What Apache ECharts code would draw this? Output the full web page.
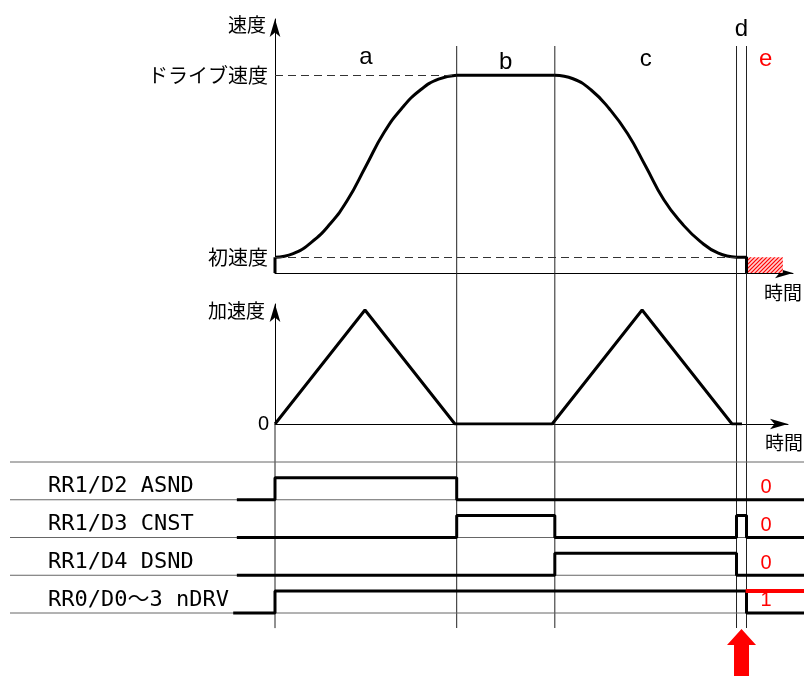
<!DOCTYPE html>
<html>
<head>
<meta charset="utf-8">
<script src="https://cdn.jsdelivr.net/npm/echarts@6/dist/echarts.min.js"></script>
<style>
  html, body { margin: 0; padding: 0; background: #fff; }
  #chart { width: 804px; height: 676px; }
</style>
</head>
<body>
<div id="chart"></div>
<script>
// phase boundaries on the time axis (a | b | c | d | e)
const phaseBounds = [0, 20, 30.8, 50.8, 51.9]
const phaseNames = ['a', 'b', 'c', 'd', 'e']

// speed profile
const initialSpeed = 8
const driveSpeed = 100
const speedUp = [[0, 8], [2, 9.8], [4, 15.5], [6, 24.5], [8, 37], [10, 54], [12, 71],
  [14, 83.5], [16, 92.5], [18, 98], [20, 100]]
const speedDown = [[30.8, 100], [32.8, 98.2], [34.8, 92.5], [36.8, 83], [38.8, 70.5], [40.8, 54],
  [42.8, 37], [44.8, 25], [46.8, 16], [48.8, 10], [50.8, 8]]
const hatchEnd = 55.9

// acceleration profile
const accelT = [0, 10, 20, 30.8, 40.8, 50.8, 51.9]
const accelV = [0, 100, 0, 0, 100, 0, 0]

// status signals: [time, level]
const signalNames = ['RR1/D2 ASND', 'RR1/D3 CNST', 'RR1/D4 DSND', 'RR0/D0～3 nDRV']
const asnd = [[-4.2, 0], [0, 1], [20, 0]]
const cnst = [[-4.2, 0], [20, 1], [30.8, 0], [50.8, 1], [51.9, 0]]
const dsnd = [[-4.2, 0], [30.8, 1], [50.8, 0]]
const ndrv = [[-4.6, 0], [0, 1], [51.9, 0]]
const signals = [asnd, cnst, dsnd, ndrv]
const eStatus = [0, 0, 0, 1]

// layout helpers (pixels)
const pxPerT = 9.085
const originX = 275
const tAt = px => (px - originX) / pxPerT
const fullMin = tAt(10)
const fullMax = tAt(804)
const axisEnd = tAt(793)
const highLevel = 0.58

const chart = echarts.init(document.getElementById('chart'))

const jpFont = '"Noto Sans CJK JP", "Noto Sans", sans-serif'
const black = '#000'
const thick = { color: black, width: 3 }
const arrowLine = {
  show: true,
  symbol: ['none', 'arrow'],
  symbolSize: [8, 18],
  lineStyle: { color: black, width: 1 }
}

// hatch pattern for the red area
const hatch = document.createElement('canvas')
hatch.width = 4
hatch.height = 4
const hctx = hatch.getContext('2d')
hctx.fillStyle = '#ffd0d0'
hctx.fillRect(0, 0, 4, 4)
hctx.strokeStyle = '#f00'
hctx.lineWidth = 1.2
hctx.beginPath()
hctx.moveTo(0, 4); hctx.lineTo(4, 0)
hctx.moveTo(-1, 1); hctx.lineTo(1, -1)
hctx.moveTo(3, 5); hctx.lineTo(5, 3)
hctx.stroke()

const series = []

// speed graph
series.push({
  type: 'line', xAxisIndex: 0, yAxisIndex: 0, symbol: 'none', silent: true,
  data: [[0, 0], [0, initialSpeed]],
  lineStyle: thick,
  markLine: {
    silent: true, symbol: ['none', 'none'], label: { show: false },
    lineStyle: { color: '#333', width: 1, type: [8, 5] },
    data: [
      [{ coord: [0, driveSpeed] }, { coord: [phaseBounds[1], driveSpeed] }],
      [{ coord: [0, initialSpeed] }, { coord: [phaseBounds[3], initialSpeed] }]
    ]
  },
  markArea: {
    silent: true,
    itemStyle: { color: { image: hatch, repeat: 'repeat' } },
    data: [[{ coord: [phaseBounds[4], 0] }, { coord: [hatchEnd, initialSpeed] }]]
  },
  markPoint: {
    silent: true, symbol: 'circle', symbolSize: 0,
    data: phaseNames.map((n, i) => {
      const mid = i < 4 ? (phaseBounds[i] + phaseBounds[i + 1]) / 2 : phaseBounds[4] + 2.1
      const v = [109, 106.5, 108, 123, 108][i]
      return {
        coord: [mid, v], value: n,
        label: {
          show: true, position: 'inside', formatter: n,
          fontFamily: '"Liberation Sans", Arial, sans-serif', fontSize: 24,
          color: n === 'e' ? '#f00' : black
        }
      }
    })
  }
})
const curve = { type: 'line', xAxisIndex: 0, yAxisIndex: 0, symbol: 'none', silent: true, smooth: 0.5, lineStyle: thick }
series.push(Object.assign({}, curve, { data: speedUp }))
series.push({ type: 'line', xAxisIndex: 0, yAxisIndex: 0, symbol: 'none', silent: true, data: [[phaseBounds[1], driveSpeed], [phaseBounds[2], driveSpeed]], lineStyle: thick })
series.push(Object.assign({}, curve, { data: speedDown }))
series.push({
  type: 'line', xAxisIndex: 0, yAxisIndex: 0, symbol: 'none', silent: true,
  data: [[phaseBounds[3], initialSpeed], [phaseBounds[4], initialSpeed], [phaseBounds[4], 0]],
  lineStyle: thick
})

// acceleration graph
series.push({
  type: 'line', xAxisIndex: 1, yAxisIndex: 1, symbol: 'none', silent: true,
  data: accelT.map((t, i) => [t, accelV[i]]),
  lineStyle: thick
})

// phase dividers
phaseBounds.slice(1).forEach(t => {
  series.push({
    type: 'line', xAxisIndex: 2, yAxisIndex: 2, symbol: 'none', silent: true, z: 1,
    data: [[t, 0], [t, 1]],
    lineStyle: { color: '#222', width: 1 }
  })
})
series.push({
  type: 'line', xAxisIndex: 3, yAxisIndex: 3, symbol: 'none', silent: true, z: 1,
  data: [[0, -0.4], [0, 5.007]],
  lineStyle: { color: '#222', width: 1 }
})

// signal rows
for (let r = 0; r <= 4; r++) {
  series.push({
    type: 'line', xAxisIndex: 3, yAxisIndex: 3, symbol: 'none', silent: true, z: 1,
    data: [[fullMin, r], [fullMax, r]],
    lineStyle: { color: '#666', width: 1 }
  })
}

signals.forEach((sig, i) => {
  const base = 3 - i
  const pts = sig.map(([t, l]) => [t, base + l * highLevel])
  pts.push([fullMax, pts[pts.length - 1][1]])
  series.push({
    type: 'line', xAxisIndex: 3, yAxisIndex: 3, symbol: 'none', silent: true, step: 'end', z: 3,
    data: pts,
    lineStyle: thick,
    markPoint: {
      silent: true, symbol: 'circle', symbolSize: 0,
      data: [
        {
          coord: [tAt(48), base + 0.35],
          label: {
            show: true, position: 'right', distance: 0, formatter: signalNames[i],
            fontFamily: '"DejaVu Sans Mono", "Noto Sans CJK JP", monospace', fontSize: 22, color: black
          }
        },
        {
          coord: [tAt(766), base + 0.32],
          label: {
            show: true, position: 'inside', formatter: String(eStatus[i]),
            fontFamily: '"Liberation Sans", Arial, sans-serif', fontSize: 20, color: '#f00'
          }
        }
      ]
    }
  })
  if (eStatus[i] === 1) {
    series.push({
      type: 'line', xAxisIndex: 3, yAxisIndex: 3, symbol: 'none', silent: true, z: 4,
      data: [[phaseBounds[4] - 0.1, base + highLevel], [fullMax, base + highLevel]],
      lineStyle: { color: '#f00', width: 4 }
    })
  }
})

// red pointer arrow under phase d
series.push({
  type: 'line', xAxisIndex: 3, yAxisIndex: 3, symbol: 'none', silent: true, data: [],
  markPoint: {
    silent: true,
    symbol: 'path://M14.5,0 L29,16 L22,16 L22,47 L7,47 L7,16 L0,16 Z',
    symbolSize: [29, 47],
    itemStyle: { color: '#f00' },
    label: { show: false },
    data: [{ coord: [(phaseBounds[3] + phaseBounds[4]) / 2, -1.046] }]
  }
})

const hidden = { show: false }
const option = {
  animation: false,
  backgroundColor: '#fff',
  grid: [
    { left: 275, right: 11, top: 19, bottom: 403 },
    { left: 275, right: 11, top: 304, bottom: 252 },
    { left: 10, right: 0, top: 46, bottom: 48 },
    { left: 10, right: 0, top: 424, bottom: 0 }
  ],
  xAxis: [
    {
      gridIndex: 0, type: 'value', min: 0, max: axisEnd,
      axisLine: arrowLine, axisTick: hidden, axisLabel: hidden, splitLine: hidden,
      name: '時間', nameLocation: 'end', nameGap: 9,
      nameTextStyle: { fontFamily: jpFont, fontSize: 19, color: black, align: 'right', verticalAlign: 'top', padding: [10, 0, 0, 0] }
    },
    {
      gridIndex: 1, type: 'value', min: 0, max: axisEnd,
      axisLine: arrowLine, axisTick: hidden, axisLabel: hidden, splitLine: hidden,
      name: '時間', nameLocation: 'end', nameGap: 15,
      nameTextStyle: { fontFamily: jpFont, fontSize: 19, color: black, align: 'right', verticalAlign: 'top', padding: [9, 0, 0, 0] }
    },
    { gridIndex: 2, type: 'value', min: fullMin, max: fullMax, show: false },
    { gridIndex: 3, type: 'value', min: fullMin, max: fullMax, show: false }
  ],
  yAxis: [
    {
      gridIndex: 0, type: 'value', min: 0, max: 128.4,
      axisLine: arrowLine, axisTick: hidden, splitLine: hidden,
      axisLabel: {
        customValues: [initialSpeed, driveSpeed],
        formatter: v => (v === driveSpeed ? 'ドライブ速度' : '初速度'),
        fontFamily: jpFont, fontSize: 20, color: black, margin: 7
      },
      name: '速度', nameLocation: 'end', nameGap: -6,
      nameTextStyle: { fontFamily: jpFont, fontSize: 19, color: black, align: 'right', verticalAlign: 'middle', padding: [0, 9, 0, 0] }
    },
    {
      gridIndex: 1, type: 'value', min: 0, max: 105.3,
      axisLine: arrowLine, axisTick: hidden, splitLine: hidden,
      axisLabel: {
        customValues: [0], formatter: () => '0',
        fontFamily: '"Liberation Sans", Arial, sans-serif', fontSize: 20, color: black, margin: 6
      },
      name: '加速度', nameLocation: 'end', nameGap: -7,
      nameTextStyle: { fontFamily: jpFont, fontSize: 19, color: black, align: 'right', verticalAlign: 'middle', padding: [0, 10, 0, 0] }
    },
    { gridIndex: 2, type: 'value', min: 0, max: 1, show: false },
    { gridIndex: 3, type: 'value', min: -1.669, max: 5.007, show: false }
  ],
  series: series
}

chart.setOption(option)
</script>
</body>
</html>
